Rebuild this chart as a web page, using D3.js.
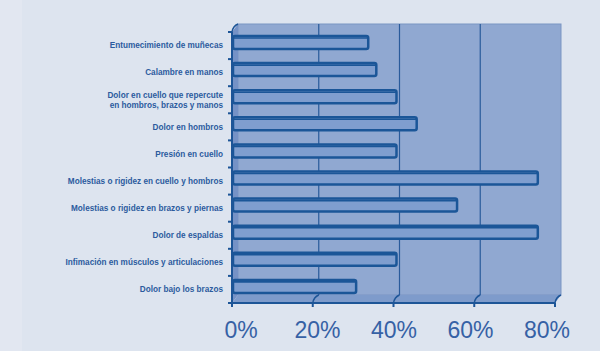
<!DOCTYPE html>
<html>
<head>
<meta charset="utf-8">
<script src="https://cdn.jsdelivr.net/npm/d3@7"></script>
<style>
  body { margin: 0; background: #dde4ef; }
  svg { display: block; }
  .cat { font-family: "Liberation Sans", Arial, sans-serif; font-weight: bold; font-size: 8.2px; fill: #2c5b9e; }
  .tick-label { font-family: "Liberation Sans", Arial, sans-serif; font-size: 23px; fill: #3661a5; }
</style>
</head>
<body>
<div id="chart"></div>
<script>
// data
const categories = [
  "Entumecimiento de muñecas",
  "Calambre en manos",
  "Dolor en cuello que repercute|en hombros, brazos y manos",
  "Dolor en hombros",
  "Presión en cuello",
  "Molestias o rigidez en cuello y hombros",
  "Molestias o rigidez en brazos y piernas",
  "Dolor de espaldas",
  "Infimación en músculos y articulaciones",
  "Dolor bajo los brazos"
]
const values = [33, 35, 40, 45, 40, 75, 55, 75, 40, 30]
const ticks = [0, 20, 40, 60, 80]
const tickLabels = ["0%", "20%", "40%", "60%", "80%"]

var width = 600,
    height = 351

const svg = d3.select("#chart")
  .append("svg")
    .attr("width", width)
    .attr("height", height)

// background
svg.append("rect").attr("width", width).attr("height", height).attr("fill", "#dde4ef")
svg.append("rect").attr("width", 22).attr("height", height).attr("fill", "#e2e7f1")

// depth offset of the 3d box
const dx = 6, dy = -8

// scales (front plane)
const x = d3.scaleLinear().domain([0, 80]).range([232, 555])
const y = d3.scaleBand().domain(d3.range(categories.length)).range([32, 303])
const xLabel = d3.scaleLinear().domain([0, 80]).range([241, 547])

const plotTop = y.range()[0], plotBottom = y.range()[1]

// back wall
svg.append("rect")
  .attr("x", x(0) + dx).attr("y", plotTop + dy)
  .attr("width", x(80) - x(0)).attr("height", plotBottom - plotTop)
  .attr("fill", "#90a8d1")
  .attr("stroke", "#7b95c3").attr("stroke-width", 1)

// left wall
svg.append("path")
  .attr("d", `M${x(0)},${plotTop} L${x(0) + dx},${plotTop + dy} L${x(0) + dx},${plotBottom + dy} L${x(0)},${plotBottom} Z`)
  .attr("fill", "#7592c6")

// floor
svg.append("path")
  .attr("d", `M${x(0)},${plotBottom} L${x(0) + dx},${plotBottom + dy} L${x(80) + dx},${plotBottom + dy} L${x(80)},${plotBottom} Z`)
  .attr("fill", "#7e9bcb")

// gridlines on back wall + floor diagonals
svg.append("g")
  .selectAll("line")
  .data(ticks.slice(1, 4))
  .join("line")
    .attr("x1", d => x(d) + dx).attr("x2", d => x(d) + dx)
    .attr("y1", plotTop + dy).attr("y2", plotBottom + dy)
    .attr("stroke", "#2a5b9b").attr("stroke-width", 1.2)

svg.append("g")
  .selectAll("path")
  .data(ticks.slice(1))
  .join("path")
    .attr("d", d => `M${x(d)},${plotBottom} Q${x(d) + 1},${plotBottom - 6} ${x(d) + dx},${plotBottom + dy}`)
    .attr("fill", "none")
    .attr("stroke", "#1d5597").attr("stroke-width", 1.5)

// top-left corner curve
svg.append("path")
  .attr("d", `M${x(0)},${plotTop} Q${x(0) + 1},${plotTop + dy + 2} ${x(0) + dx},${plotTop + dy}`)
  .attr("fill", "none").attr("stroke", "#1d5597").attr("stroke-width", 1.5)

// bars
const barTop = 4, barH = 13
const bars = svg.append("g")
  .selectAll("g")
  .data(values)
  .join("g")

bars.append("rect")
  .attr("x", x(0) + 1)
  .attr("y", (d, i) => y(i) + barTop)
  .attr("width", d => x(d) + dx / 2 - x(0) - 1)
  .attr("height", barH)
  .attr("rx", 2)
  .attr("fill", "#7f9ecf")
  .attr("stroke", "#1b5698")
  .attr("stroke-width", 2.5)

bars.append("line")
  .attr("x1", x(0) + 1)
  .attr("x2", d => x(d) + dx / 2)
  .attr("y1", (d, i) => y(i) + barTop + 2)
  .attr("y2", (d, i) => y(i) + barTop + 2)
  .attr("stroke", "#1b5698")
  .attr("stroke-width", 1.6)

// axes lines
svg.append("line")
  .attr("x1", x(0)).attr("x2", x(0)).attr("y1", plotTop).attr("y2", plotBottom)
  .attr("stroke", "#1d5597").attr("stroke-width", 2)
svg.append("line")
  .attr("x1", x(0)).attr("x2", x(80)).attr("y1", plotBottom).attr("y2", plotBottom)
  .attr("stroke", "#1d5597").attr("stroke-width", 2)

// y ticks
svg.append("g")
  .selectAll("line")
  .data(d3.range(categories.length + 1))
  .join("line")
    .attr("x1", x(0) - 4).attr("x2", x(0))
    .attr("y1", i => plotTop + i * y.step()).attr("y2", i => plotTop + i * y.step())
    .attr("stroke", "#1d5597").attr("stroke-width", 2)

// x ticks
svg.append("g")
  .selectAll("line")
  .data(ticks)
  .join("line")
    .attr("x1", d => x(d)).attr("x2", d => x(d))
    .attr("y1", plotBottom).attr("y2", plotBottom + 4)
    .attr("stroke", "#1d5597").attr("stroke-width", 2)

// category labels
const labels = svg.append("g")
  .selectAll("text")
  .data(categories)
  .join("text")
    .attr("class", "cat")
    .attr("text-anchor", "end")
    .attr("x", 223)
    .attr("y", (d, i) => y(i) + y.bandwidth() / 2 + 2.8)

labels.each(function(d) {
  const parts = d.split("|")
  const t = d3.select(this)
  parts.forEach((p, j) => {
    t.append("tspan")
      .attr("x", 223)
      .attr("dy", j === 0 ? (-(parts.length - 1) * 10 / 2) : 10)
      .text(p)
  })
})

// x tick labels
svg.append("g")
  .selectAll("text")
  .data(ticks)
  .join("text")
    .attr("class", "tick-label")
    .attr("text-anchor", "middle")
    .attr("x", d => xLabel(d))
    .attr("y", 338)
    .text((d, i) => tickLabels[i])
</script>
</body>
</html>
